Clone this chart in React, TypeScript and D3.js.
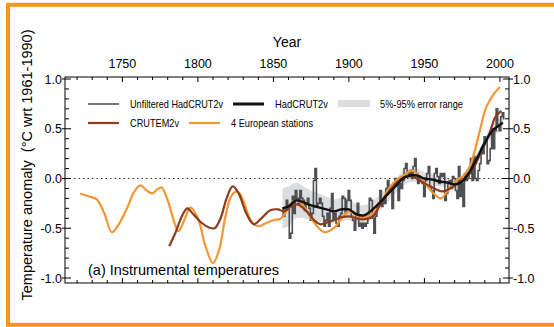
import React from 'react';
import * as d3 from 'd3';

// Unfiltered HadCRUT2v, annual values starting 1856
const unfilteredStart = 1856;
const unfiltered = [
  -0.30, -0.38, -0.32, -0.22,
  -0.30, -0.60, -0.55, -0.18, -0.35, -0.12, -0.20, -0.25, -0.12, -0.20,
  -0.22, -0.32, -0.25, -0.20, -0.30, -0.42, -0.35, -0.02, 0.10, -0.28,
  -0.25, -0.20, -0.25, -0.38, -0.48, -0.42, -0.35, -0.48, -0.30, -0.15,
  -0.42, -0.35, -0.45, -0.48, -0.38, -0.35, -0.18, -0.20, -0.35, -0.22,
  -0.12, -0.22, -0.38, -0.42, -0.52, -0.35, -0.25, -0.48, -0.45, -0.50,
  -0.45, -0.48, -0.45, -0.38, -0.20, -0.22, -0.40, -0.55, -0.38, -0.28,
  -0.25, -0.12, -0.28, -0.22, -0.25, -0.10, -0.02, -0.12, -0.08, -0.30,
  -0.05, 0.00, -0.05, -0.22, -0.05, -0.10, -0.02, 0.10, 0.15, 0.05,
  0.02, 0.08, 0.00, 0.12, 0.20, 0.05, -0.05, 0.02, -0.02, -0.05,
  -0.18, -0.02, 0.05, 0.12, -0.08, -0.12, -0.20, 0.05, 0.10, 0.02,
  -0.05, 0.05, 0.02, 0.05, -0.22, -0.15, -0.05, -0.02, -0.10, 0.02,
  0.00, -0.12, -0.20, 0.12, -0.18, -0.05, -0.28, 0.05, -0.02, 0.00,
  0.05, 0.20, -0.02, 0.22, 0.00, -0.02, 0.08, 0.15, 0.30, 0.25,
  0.42, 0.38, 0.15, 0.18, 0.30, 0.50, 0.30, 0.48, 0.70, 0.52,
  0.48, 0.62, 0.66, 0.60,
];

// smoothed HadCRUT2v and its 5-95% half width
const hadYears = [1856, 1860, 1865, 1870, 1875, 1880, 1885, 1890, 1895, 1900, 1905, 1910, 1915, 1920, 1925, 1930, 1935, 1940, 1945, 1950, 1955, 1960, 1965, 1970, 1975, 1980, 1985, 1990, 1995, 2000, 2002];
const hadValues = [-0.30, -0.28, -0.22, -0.24, -0.27, -0.29, -0.31, -0.33, -0.31, -0.31, -0.36, -0.37, -0.32, -0.25, -0.17, -0.09, -0.01, 0.03, 0.03, 0.00, -0.01, -0.03, -0.04, -0.06, -0.03, 0.07, 0.21, 0.36, 0.48, 0.54, 0.56];
const hadError = [0.20, 0.20, 0.18, 0.16, 0.15, 0.14, 0.13, 0.12, 0.12, 0.11, 0.10, 0.10, 0.09, 0.08, 0.08, 0.07, 0.07, 0.07, 0.07, 0.06, 0.06, 0.05, 0.05, 0.05, 0.05, 0.05, 0.05, 0.05, 0.06, 0.07, 0.08];

// CRUTEM2v
const cruYears = [1781, 1785, 1790, 1793, 1797, 1802, 1807, 1811, 1815, 1819, 1823, 1827, 1832, 1837, 1842, 1848, 1853, 1857, 1862, 1866, 1872, 1877, 1881, 1886, 1890, 1895, 1900, 1905, 1909, 1916, 1920, 1925, 1930, 1936, 1942, 1948, 1954, 1962, 1967, 1971, 1978, 1983, 1987, 1993, 1997, 2001];
const cruValues = [-0.68, -0.55, -0.36, -0.30, -0.36, -0.44, -0.49, -0.50, -0.40, -0.20, -0.08, -0.15, -0.35, -0.46, -0.40, -0.32, -0.31, -0.33, -0.28, -0.26, -0.33, -0.42, -0.46, -0.44, -0.42, -0.39, -0.38, -0.40, -0.41, -0.38, -0.28, -0.16, -0.07, 0.01, 0.02, -0.03, -0.08, -0.13, -0.10, -0.06, 0.02, 0.12, 0.25, 0.45, 0.62, 0.68];

// 4 European stations
const eurYears = [1722, 1728, 1733, 1738, 1743, 1748, 1753, 1758, 1762, 1766, 1770, 1773, 1776, 1780, 1784, 1787, 1791, 1795, 1800, 1805, 1810, 1814, 1818, 1822, 1826, 1830, 1835, 1840, 1845, 1850, 1855, 1859, 1863, 1867, 1871, 1876, 1880, 1884, 1888, 1892, 1896, 1900, 1904, 1908, 1914, 1918, 1921, 1927, 1932, 1936, 1942, 1946, 1951, 1956, 1961, 1965, 1968, 1972, 1976, 1980, 1983, 1987, 1991, 1996, 2000];
const eurValues = [-0.15, -0.18, -0.21, -0.35, -0.54, -0.45, -0.30, -0.13, -0.07, -0.12, -0.15, -0.11, -0.09, -0.22, -0.42, -0.53, -0.42, -0.29, -0.40, -0.68, -0.85, -0.72, -0.40, -0.18, -0.13, -0.22, -0.42, -0.48, -0.45, -0.42, -0.40, -0.32, -0.23, -0.23, -0.30, -0.42, -0.50, -0.54, -0.52, -0.47, -0.38, -0.33, -0.36, -0.39, -0.37, -0.32, -0.25, -0.09, -0.01, 0.03, 0.08, 0.03, -0.06, -0.15, -0.20, -0.13, -0.07, -0.01, 0.03, 0.12, 0.26, 0.50, 0.72, 0.85, 0.92];

const xTickLabels = [1750, 1800, 1850, 1900, 1950, 2000];
const yTickLabels = [-1.0, -0.5, 0.0, 0.5, 1.0];

const W = 554;
const H = 327;
const ORANGE = '#f39633';
const BROWN = '#8e3b1e';
const FONT = '"Liberation Sans", Arial, Helvetica, sans-serif';

const x = d3.scaleLinear().domain([1712, 2006]).range([65, 509]);
const y = d3.scaleLinear().domain([-1, 1]).range([278, 79]);

export default function App() {
  const top = y(1.02);
  const bottom = y(-1.05);
  const left = x.range()[0];
  const right = x.range()[1];

  const pts = (ys: number[], vs: number[]) => ys.map((yr, i) => [yr, vs[i]] as [number, number]);

  const smooth = d3.line<[number, number]>()
    .x(d => x(d[0]))
    .y(d => y(d[1]))
    .curve(d3.curveCatmullRom.alpha(0.5));

  const step = d3.line<number>()
    .x((d, i) => x(unfilteredStart + i))
    .y(d => y(d))
    .curve(d3.curveStep);

  const band = d3.area<number>()
    .x((d, i) => x(hadYears[i]))
    .y0((d, i) => y(hadValues[i] - hadError[i]))
    .y1((d, i) => y(hadValues[i] + hadError[i]))
    .curve(d3.curveCatmullRom.alpha(0.5));

  const minorX = d3.range(1720, 2006, 10);
  const minorY = d3.range(-10, 11).map(v => v / 10);

  // legend: line start, text start, text width (the original type is condensed)
  const legend1 = [
    { label: 'Unfiltered HadCRUT2v', color: '#555', width: 1.6, lx: 88, tx: 130, tw: 93 },
    { label: 'HadCRUT2v', color: '#111', width: 3, lx: 233, tx: 275, tw: 53 },
  ];
  const legend2 = [
    { label: 'CRUTEM2v', color: BROWN, width: 2.2, lx: 88, tx: 130, tw: 49 },
    { label: '4 European stations', color: ORANGE, width: 2.2, lx: 189, tx: 231, tw: 82 },
  ];

  return (
    <svg width={W} height={H} style={{ position: 'absolute', left: 0, top: 0, background: '#fff' }}>
      <rect x={8} y={4.8} width={W + 20} height={320} fill="#fff" stroke="#f7931e" strokeWidth={4} />

      {/* error band */}
      <path d={band(hadValues) || ''} fill="#dcdddf" />

      {/* zero line */}
      <line x1={left} x2={right} y1={y(0)} y2={y(0)} stroke="#333" strokeWidth={1.2} strokeDasharray="1.5,3" />

      {/* unfiltered */}
      <path d={step(unfiltered) || ''} fill="none" stroke="#4d4f52" strokeWidth={1.6} />

      {/* smoothed series */}
      <path d={smooth(pts(eurYears, eurValues)) || ''} fill="none" stroke={ORANGE} strokeWidth={2.2} />
      <path d={smooth(pts(cruYears, cruValues)) || ''} fill="none" stroke={BROWN} strokeWidth={2.2} />
      <path d={smooth(pts(hadYears, hadValues)) || ''} fill="none" stroke="#111" strokeWidth={2.4} />

      {/* frame */}
      <rect x={left} y={top} width={right - left} height={bottom - top} fill="none" stroke="#000" strokeWidth={1} />

      {/* x ticks top and bottom */}
      {minorX.map(t => {
        const major = t % 50 === 0;
        const len = major ? 5 : 3;
        return (
          <g key={t}>
            <line x1={x(t)} x2={x(t)} y1={top} y2={top + len} stroke="#000" />
            <line x1={x(t)} x2={x(t)} y1={bottom} y2={bottom - len} stroke="#000" />
          </g>
        );
      })}
      {xTickLabels.map(t => (
        <text key={t} x={x(t)} y={68} textAnchor="middle" fontFamily={FONT} fontSize={12.5}>{t}</text>
      ))}
      <text x={287} y={47} textAnchor="middle" fontFamily={FONT} fontSize={14}>Year</text>

      {/* y ticks left and right */}
      {minorY.map(v => {
        const major = Math.abs(Math.round(v * 10) % 5) === 0;
        const len = major ? 6 : 4;
        return (
          <g key={v}>
            <line x1={left} x2={left + len} y1={y(v)} y2={y(v)} stroke="#000" />
            <line x1={right} x2={right - len} y1={y(v)} y2={y(v)} stroke="#000" />
            {major && <line x1={right} x2={right + 4} y1={y(v)} y2={y(v)} stroke="#000" />}
            {major && <line x1={left} x2={left - 3} y1={y(v)} y2={y(v)} stroke="#000" />}
          </g>
        );
      })}
      {yTickLabels.map(v => (
        <g key={v}>
          <text x={left - 3} y={y(v) + 4.5} textAnchor="end" fontFamily={FONT} fontSize={12.5}>{v.toFixed(1)}</text>
          <text x={right + 4} y={y(v) + 4.5} textAnchor="start" fontFamily={FONT} fontSize={12.5}>{v.toFixed(1)}</text>
        </g>
      ))}
      <text transform="translate(32,165) rotate(-90)" textAnchor="middle" fontFamily={FONT} fontSize={14.5}
        style={{ whiteSpace: 'pre' }}>{'Temperature anomaly  (°C wrt 1961-1990)'}</text>

      {/* legend */}
      {legend1.map(l => (
        <g key={l.label}>
          <line x1={l.lx} x2={l.lx + 31} y1={104} y2={104} stroke={l.color} strokeWidth={l.width} />
          <text x={l.tx} y={108} fontFamily={FONT} fontSize={11} textLength={l.tw} lengthAdjust="spacingAndGlyphs">{l.label}</text>
        </g>
      ))}
      <rect x={338} y={100} width={32} height={7} fill="#dcdddf" />
      <text x={380} y={108} fontFamily={FONT} fontSize={11} textLength={83} lengthAdjust="spacingAndGlyphs">5%-95% error range</text>
      {legend2.map(l => (
        <g key={l.label}>
          <line x1={l.lx} x2={l.lx + 31} y1={123} y2={123} stroke={l.color} strokeWidth={l.width} />
          <text x={l.tx} y={127} fontFamily={FONT} fontSize={11} textLength={l.tw} lengthAdjust="spacingAndGlyphs">{l.label}</text>
        </g>
      ))}

      <text x={88} y={275} fontFamily={FONT} fontSize={14.5}>(a) Instrumental temperatures</text>
    </svg>
  );
}
